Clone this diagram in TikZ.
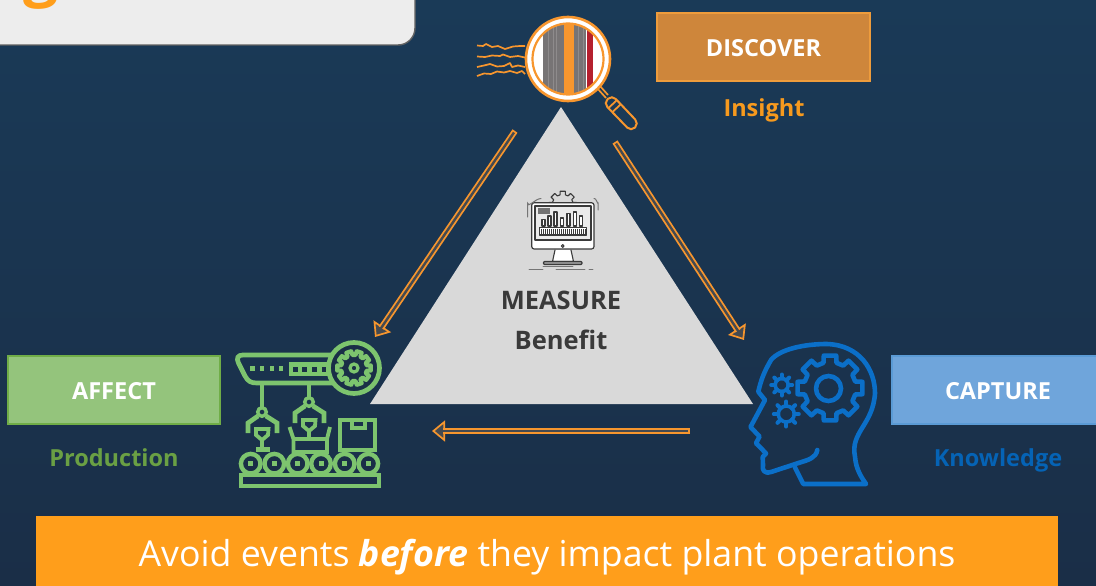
\documentclass[tikz,border=0pt]{standalone}
\usepackage{fontspec}
\setmainfont{Open Sans}
\usetikzlibrary{arrows.meta,calc,shapes.geometric}
\definecolor{bgtop}{HTML}{1A3A57}
\definecolor{bgbot}{HTML}{1A2E47}
\definecolor{flow}{HTML}{F7962E}
\definecolor{headfill}{HTML}{454A50}
\definecolor{facgreen}{HTML}{7DC46E}
\definecolor{headblue}{HTML}{0B6FC8}
\definecolor{mon}{HTML}{3A3A3A}
\definecolor{discfill}{HTML}{CE863B}
\definecolor{discline}{HTML}{EE9C3C}
\definecolor{affectfill}{HTML}{94C47C}
\definecolor{affectline}{HTML}{70AD47}
\definecolor{capfill}{HTML}{6FA5DB}
\definecolor{capline}{HTML}{5B9BD5}
\definecolor{insight}{HTML}{F79A1E}
\definecolor{prod}{HTML}{6AA044}
\definecolor{know}{HTML}{0563B5}
\definecolor{banner}{HTML}{FF9E1B}
\definecolor{stripe}{HTML}{777475}
\definecolor{stripelt}{HTML}{8E8B8C}
\definecolor{redbar}{HTML}{B5202E}
\tikzset{
 label box/.style={draw,line width=1.3pt,minimum height=68pt,text=white,font=\fontsize{23.5}{28}\selectfont\bfseries,inner sep=0pt},
 sub text/.style={font=\fontsize{23.5}{28}\selectfont\bfseries,inner sep=0pt},
 tri text/.style={font=\fontsize{25.5}{30}\selectfont\bfseries,text=mon,inner sep=0pt},
 shaft out/.style={draw=flow,line width=6pt,shorten >=11pt},
 shaft in/.style={draw=headfill,line width=2.4pt,shorten <=1.8pt,shorten >=9pt},
 head pass/.style={draw=headfill,line width=.2pt,-{Triangle[length=13pt,width=21pt,fill=headfill,color=flow,line width=1.7pt]}},
 fac/.style={draw=facgreen,line width=4.7pt,line join=miter},
 brain/.style={draw=headblue,line width=4.6pt,line cap=round,line join=round},
 monl/.style={draw=mon,line width=1.1pt,line cap=round,line join=round},
 monthin/.style={draw=mon!70,line width=.9pt,line cap=round},
 squig/.style={draw=flow,line width=1.7pt,line join=round},
}
\newcommand{\blockarrow}[2]{%
 \draw[head pass] (#1) -- (#2);
 \draw[shaft out] (#1) -- (#2);
 \draw[shaft in] (#1) -- (#2);}
% cx cy outer inner teeth style: cog outline
\newcommand{\cogpath}[6]{%
 \pgfmathsetmacro{\cogstep}{360/#5}%
 \pgfmathsetmacro{\cogw}{\cogstep*0.24}%
 \pgfmathsetmacro{\cogn}{int(#5-1)}%
 \draw[#6,shift={(#1,#2)}] (0-1.35*\cogw:#4)
  \foreach \ci in {0,...,\cogn}{
   -- (\ci*\cogstep-1.35*\cogw:#4) -- (\ci*\cogstep-\cogw:#3) -- (\ci*\cogstep+\cogw:#3) -- (\ci*\cogstep+1.35*\cogw:#4)
  } -- cycle;}
\newcommand{\smallcog}[4]{%
 \draw[brain,line width=3.6pt] (#1,#2) circle (#4);
 \foreach \ca in {0,45,...,315}{
  \draw[brain,line width=4pt,shift={(#1,#2)}] (\ca:#4) -- (\ca:#3);}}
\begin{document}
\begin{tikzpicture}[x=1pt,y=-1pt]
\useasboundingbox (0,0) rectangle (1096,586);
\clip (0,0) rectangle (1096,586);
\shade[top color=bgtop,bottom color=bgbot] (0,0) rectangle (1096,586);
% title panel
\draw[draw=black!62,fill=black!7,line width=1.4pt,rounded corners=17pt] (-30,-40) rectangle (415,45);
\node[text=banner,font=\fontsize{62}{70}\selectfont\bfseries,inner sep=0pt,anchor=base] (titlefrag) at (41,-5) {g};
% triangle
\fill[black!15] (561,107) -- (753,404) -- (370,404) -- cycle;
\node[tri text] (measure) at (561,300.5) {MEASURE};
\node[tri text] (benefit) at (561,340) {Benefit};
% monitor icon
\begin{scope}
 \clip (540,180) rectangle (585,203);
 \cogpath{562.7}{205}{14}{10.5}{8}{monl}
\end{scope}
\draw[monl,fill=white,rounded corners=2.5pt,line width=1.2pt] (531.7,202.7) rectangle (594,249);
\draw[monl,fill=black!8] (535,206) rectangle (591,240);
\fill[black!55] (538,208) rectangle (550,214);
\foreach \bx/\bt in {543.5/219.5,549.5/216,555.5/212,562/218,568.5/213.5,575/212,581/216}{
 \draw[monl,fill=white] (\bx-1.5,226) rectangle (\bx+1.5,\bt);}
\draw[monl,fill=white] (539.5,227.5) rectangle (586.5,235);
\foreach \tx in {541.5,543.5,...,585.5}{\draw[mon,line width=.6pt] (\tx,229) -- (\tx,233.5);}
\draw[monl] (562.7,246) circle (1.4);
\draw[monl,fill=white] (555,250) -- (552.5,261.5) -- (573.5,261.5) -- (571,250);
\draw[monl,fill=black!40,rounded corners=1pt] (543.5,261.5) rectangle (582,264.5);
\draw[monthin] (529,269) -- (543,269) (556,269) -- (585,269) (589,269) -- (593,269) (543,266) -- (573,266);
\draw[monthin,line width=1pt] (527.5,217) -- (527.5,203) to[out=-90,in=180] (541,198.5);
\draw[monthin,line width=1pt] (598,210) -- (598,203) to[out=-90,in=30] (594,198.5);
% squiggles
\draw[squig] (477,45.5) -- (483,46) -- (486,44) -- (492,47) -- (498,46) -- (505,49) -- (513,46.5) -- (520,46) -- (525,46);
\draw[squig] (477,56.5) -- (485,57) -- (492,55.5) -- (500,56) -- (503,54.5) -- (510,57) -- (518,56) -- (525,57.5);
\draw[squig] (477,67) -- (484,65.5) -- (490,64) -- (497,66.5) -- (504,66) -- (510,63) -- (512,67) -- (518,65.5) -- (525,67);
\draw[squig] (477,76) -- (484,73.5) -- (491,74) -- (497,71.5) -- (504,72.5) -- (510,71) -- (517,73) -- (522,71) -- (525,74);
% magnifier
\draw[flow,line width=1.7pt] (597,88) -- (606,98);
\draw[flow,line width=1.7pt] (600,86) -- (608,95);
\draw[flow,line width=2pt,fill=bgtop,rounded corners=5.5pt] (603.5,103) -- (612,95) -- (639,123.5) -- (631,131.5) -- cycle;
\draw[flow,line width=1.8pt] (608,108.5) -- (617,100) (612,112.5) -- (621,104);
\draw[flow,fill=white,line width=2.6pt] (568,59) circle (42);
\begin{scope}
 \clip (568,59) circle (35.5);
 \fill[white] (530,20) rectangle (610,100);
 \fill[stripe] (543,20) rectangle (586,100);
 \foreach \sx in {548,553,556,578,583}{\fill[stripelt] (\sx,20) rectangle (\sx+1.4,100);}
 \fill[flow] (564,20) rectangle (573.5,100);
 \fill[redbar] (587,20) rectangle (593,100);
 \fill[white] (587,91) -- (604,74) -- (604,100) -- (587,100) -- cycle;
\end{scope}
\draw[flow,line width=2.2pt] (568,59) circle (35.5);
% connectors
\coordinate (dTail) at (515,131);
\coordinate (dTip) at (375,337);
\coordinate (cTail) at (615,142);
\coordinate (cTip) at (744,340);
\coordinate (aTail) at (690,431);
\coordinate (aTip) at (432,431);
\blockarrow{dTail}{dTip}
\blockarrow{cTail}{cTip}
\blockarrow{aTail}{aTip}
% boxes
\node[label box,fill=discfill,draw=discline,minimum width=213pt] (discover) at (763.5,47) {\raisebox{-9.4pt}[0pt][0pt]{DISCOVER}};
\node[sub text,text=insight] (insight) at (764,110.5) {Insight};
\node[label box,fill=affectfill,draw=affectline,minimum width=212pt] (affect) at (114,390) {\raisebox{-9.4pt}[0pt][0pt]{AFFECT}};
\node[sub text,text=prod] (production) at (114,458) {Production};
\node[label box,fill=capfill,draw=capline,minimum width=212pt] (capture) at (998,390) {\raisebox{-9.4pt}[0pt][0pt]{CAPTURE}};
\node[sub text,text=know] (knowledge) at (998,460) {Knowledge};
\node[fill=banner,minimum width=1022pt,minimum height=72pt,inner sep=0pt,text=white,font=\fontsize{35.7}{40}\selectfont] (bannerbox) at (547,551.5) {\raisebox{-14.5pt}[0pt][0pt]{Avoid events \textbf{\textit{before}} they impact plant operations}};
% factory icon
\draw[fac] (333,355) -- (243,355) .. controls (238,355) and (236,358) .. (238.5,363) -- (245,376) .. controls (248,381.5) and (251,383) .. (257,383) -- (335,383);
\fill[facgreen] (289,362) rectangle (330,376);
\foreach \qx in {295.3,304.7,314.3,324}{\fill[bgbot] (\qx-2.3,366.5) rectangle (\qx+2.3,371.5);}
\foreach \qx in {252.3,262,271.7,281}{\fill[facgreen] (\qx-2.2,366) rectangle (\qx+2.2,370.5);}
\draw[fac,fill=bgbot] (354,368) circle (25.5);
\cogpath{354}{368}{17}{13}{10}{fac,line width=4.2pt,line join=round}
\draw[fac,line width=3.2pt] (354,368) circle (4);
\draw[fac] (262,383) -- (262,407) (309,383) -- (309,397);
\draw[fac,line width=3.4pt] (262,412) circle (4.3) (309,402) circle (4.3);
\draw[fac] (258,416) -- (248,423) -- (248,433) (266,416) -- (277,423) -- (277,433);
\draw[fac] (305,406) -- (295,413) -- (295,423) (313,406) -- (324,413) -- (324,423);
\draw[fac,line width=3.8pt] (256,429) -- (268.5,429) -- (268,435) -- (262,440) -- (256,435) -- cycle;
\draw[fac] (262,440) -- (262,449);
\fill[facgreen] (255.5,447) rectangle (269.5,452);
\draw[fac,line width=3.8pt] (303,420) -- (315.5,420) -- (315,426) -- (309,431) -- (303,426) -- cycle;
\draw[fac] (309,431) -- (309,439);
\draw[fac,line width=3.8pt] (289.5,427) -- (293.5,439) -- (293.5,452) -- (327,452) -- (327,439) -- (330,427) (293.5,439) -- (327,439);
\draw[fac,line width=3.8pt] (340,452) -- (340,420) -- (375,420) -- (375,452) (352,420) -- (352,428) -- (365,428) -- (365,420) (340,450) -- (375,450);
\foreach \rx in {250.7,274.3,297.7,321,344.7,368.3}{
 \draw[fac,fill=bgbot,line width=4.4pt] (\rx,463.7) circle (9.8);
 \fill[facgreen] (\rx-2.5,461.2) rectangle (\rx+2.5,466.2);}
\draw[fac,line width=4pt] (240.5,475) rectangle (379,486);
% brain icon
\draw[brain] (817.3,450) .. controls (816,458) and (808,460) .. (800,462.5) -- (771,472) .. controls (764,474) and (762,470) .. (763,465) -- (762.7,457) -- (766,453.5) -- (760,447) -- (756,443.3) -- (759.5,436.5) -- (750.5,427) -- (765,400) -- (758.3,391.7) .. controls (761,380) and (764,372) .. (771,360) .. controls (780,349) and (805,344) .. (826.7,344) .. controls (860,345) and (875,370) .. (875,393.3) .. controls (873,425) and (850,432) .. (855,456.7) .. controls (856,470) and (862,478) .. (866,484) -- (803.3,484) -- (795,467.5);
\cogpath{830}{388}{33}{26}{8}{brain}
\draw[brain] (828.5,388.5) circle (12.5);
\smallcog{781.7}{385}{10.5}{6.5}
\smallcog{786.3}{414}{12.5}{8}
\end{tikzpicture}
\end{document}
